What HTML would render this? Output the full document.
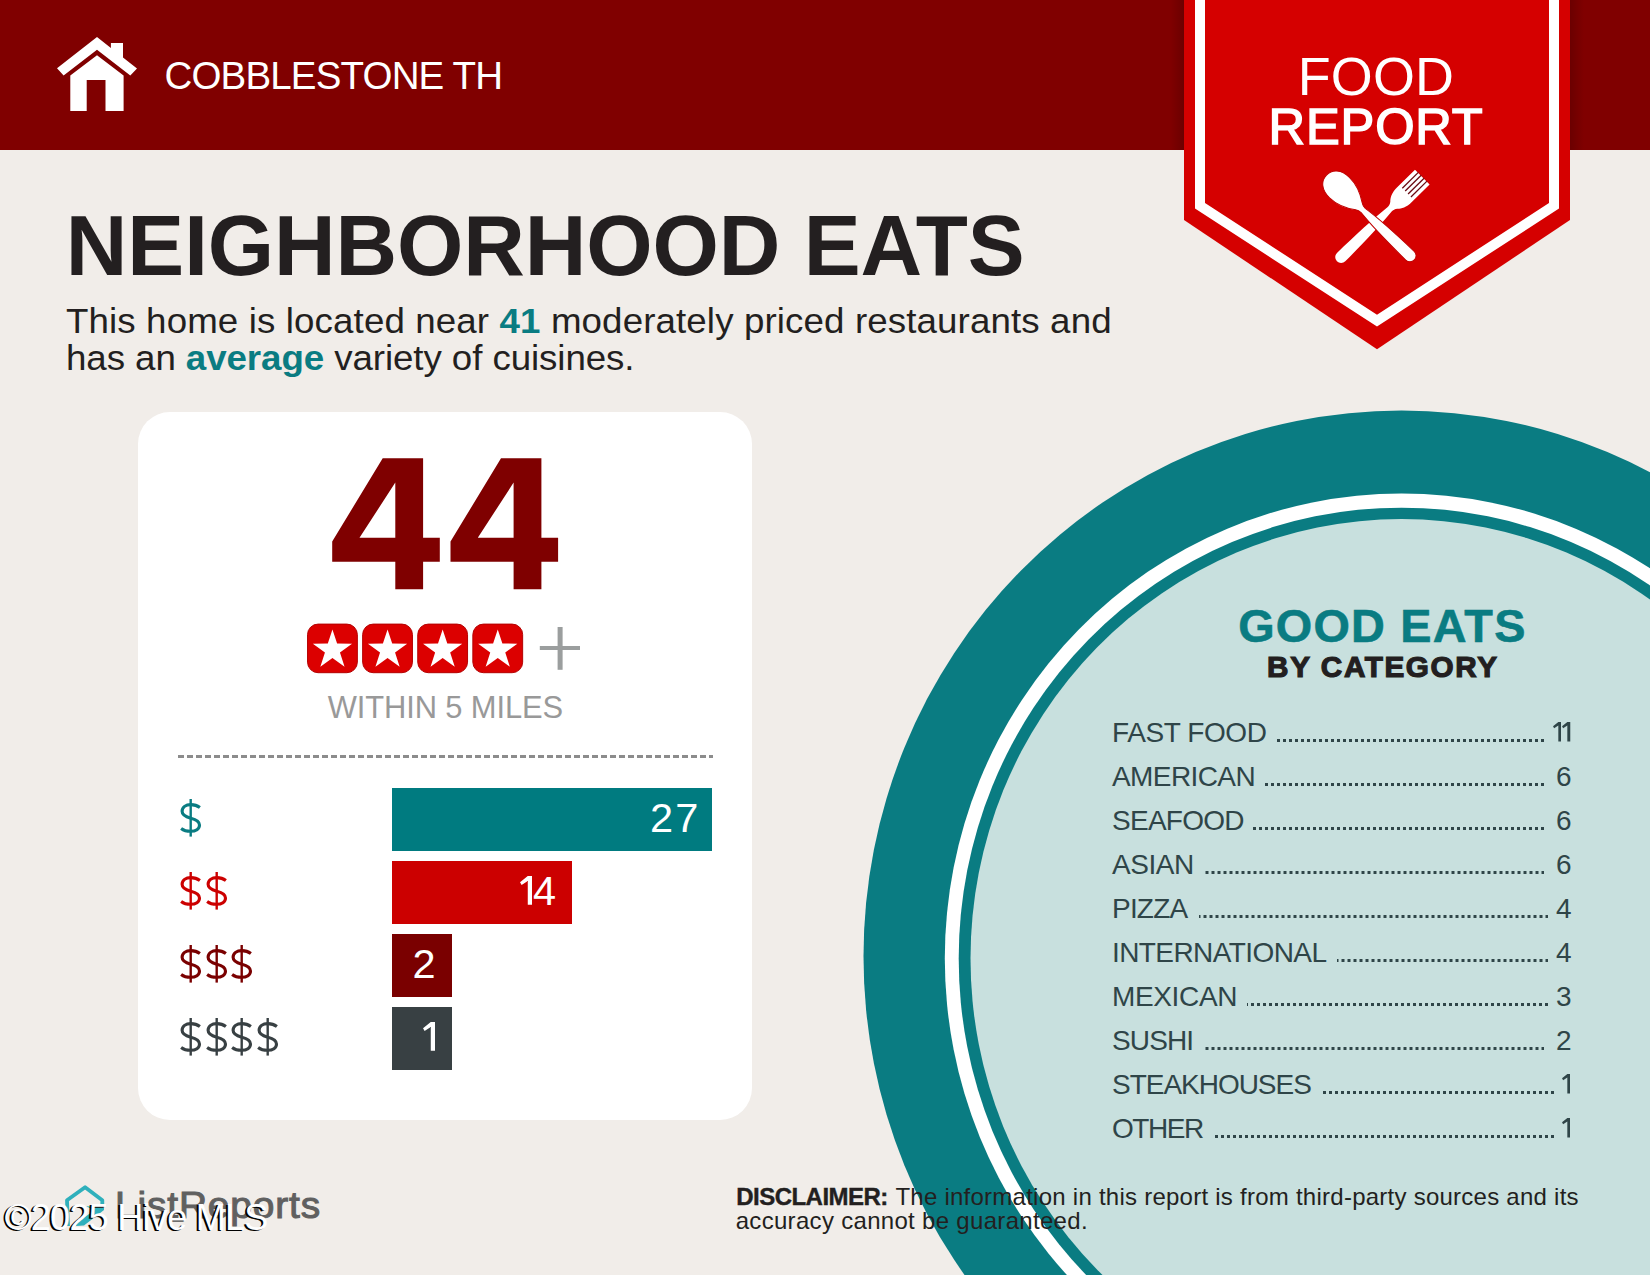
<!DOCTYPE html>
<html>
<head>
<meta charset="utf-8">
<title>Food Report</title>
<style>
html,body{margin:0;padding:0;}
body{width:1650px;height:1275px;overflow:hidden;background:#f1ede9;font-family:"Liberation Sans",sans-serif;}
#page{position:relative;width:1650px;height:1275px;overflow:hidden;background:#f1ede9;}
.abs{position:absolute;}
.t{position:absolute;white-space:nowrap;line-height:1;margin:0;padding:0;transform-origin:0 0;}
#hdr{left:0;top:0;width:1650px;height:150px;background:#800000;}
#card{left:138px;top:412px;width:614px;height:708px;border-radius:32px;background:#fff;}
.bar{position:absolute;left:392.2px;height:62.3px;}
.bv{position:absolute;color:#fff;font-size:41.5px;line-height:1;white-space:nowrap;}
.lb{position:absolute;left:1112px;white-space:nowrap;line-height:1;font-size:28px;color:#2f4548;}
.num{position:absolute;width:40px;left:1531.5px;text-align:right;white-space:nowrap;line-height:1;font-size:28px;color:#2f4548;}
.dots{position:absolute;height:3px;background:linear-gradient(90deg,transparent 0,transparent 3px,#2f4548 3px,#2f4548 6px) right top/6px 3px repeat-x;}
</style>
</head>
<body>
<div id="page">

<svg width="0" height="0" style="position:absolute">
  <defs>
    <symbol id="ds" viewBox="0 0 22 38" overflow="visible">
      <path d="M19.9,8.6 C17.4,6.7 14.4,5.6 11,5.6 C5.6,5.6 2.1,8.4 2.1,12.3 C2.1,16.2 5.2,17.8 10.8,19.2 C16.4,20.6 19.5,22.3 19.5,26 C19.5,30 15.9,32.3 10.5,32.3 C6.8,32.3 3.6,31.3 1.1,29.4" fill="none" stroke="currentColor" stroke-width="3.1"/>
      <path d="M10.7,0 L10.7,37.6" fill="none" stroke="currentColor" stroke-width="2.4"/>
    </symbol>
    <symbol id="one" viewBox="0 0 0.42 1" overflow="visible">
      <polygon points="0.27,0 0.42,0 0.42,1 0.27,1 0.27,0.175 0.055,0.315 0,0.215" fill="currentColor"/>
    </symbol>
  </defs>
</svg>

<!-- circle plate -->
<svg class="abs" style="left:0;top:0" width="1650" height="1275" viewBox="0 0 1650 1275">
  <ellipse cx="1401.5" cy="956.5" rx="538" ry="546" fill="#0a7c82"/>
  <ellipse cx="1401.5" cy="958.5" rx="456.7" ry="465" fill="#ffffff"/>
  <ellipse cx="1401.5" cy="958.5" rx="442.8" ry="450.8" fill="#0a7c82"/>
  <ellipse cx="1401.5" cy="958.5" rx="431" ry="439.4" fill="#c8e0de"/>
</svg>

<!-- header -->
<div id="hdr" class="abs"></div>
<svg class="abs" style="left:50px;top:30px" width="100" height="90" viewBox="50 30 100 90">
  <g fill="#fff">
    <polygon points="97,37 110.9,48 110.9,43 123,43 123,57.5 137,68.5 130.3,75.5 97,49.7 63.6,75.5 57,68.2"/>
    <path d="M97,55.2 L123.6,75.5 L123.6,111 L105.5,111 L105.5,80 L86.7,80 L86.7,111 L70.3,111 L70.3,75.5 Z"/>
  </g>
</svg>
<div class="t" id="addr" style="left:164.55px;top:56.65px;font-size:38.5px;color:#fff;letter-spacing:-0.84px;">COBBLESTONE TH</div>

<!-- badge -->
<div class="abs" style="left:1170px;top:0;width:14px;height:150px;background:linear-gradient(90deg,rgba(70,0,0,0),rgba(60,0,0,.3));"></div>
<div class="abs" style="left:1570px;top:0;width:14px;height:150px;background:linear-gradient(90deg,rgba(60,0,0,.3),rgba(70,0,0,0));"></div>
<svg class="abs" style="left:1160px;top:0" width="440" height="370" viewBox="1160 0 440 370">
  <polygon points="1184,0 1570,0 1570,220 1377,349.3 1184,220" fill="#d50000"/>
  <polygon points="1195,0 1205,0 1205,203 1377,314.7 1549,203 1549,0 1559,0 1559,208.5 1377,326.6 1195,208.5" fill="#ffffff"/>
</svg>
<div class="t" id="food" style="left:1297.75px;top:49.65px;font-size:53.9px;color:#fff;letter-spacing:0.17px;">FOOD</div>
<div class="t" id="report" style="left:1268.5px;top:101.65px;font-size:50.6px;color:#fff;letter-spacing:0.87px;-webkit-text-stroke:1.5px #fff;">REPORT</div>

<svg class="abs" style="left:1310px;top:155px" width="135" height="125" viewBox="1310 155 135 125">
  <g transform="translate(1422.3,177.1) rotate(135.4)">
    <path d="M0,-10.4 L25,-10.4 C33,-10.4 37,-8 40,-5 C42,-3.4 44,-3 46,-3 C62,-4.6 90,-5.7 114,-5.9 A5.9,5.9 0 0 1 114,5.9 C90,5.7 62,4.6 46,3 C44,3 42,3.4 40,5 C37,8 33,10.4 25,10.4 L0,10.4 Z" fill="#fff"/>
    <rect x="-0.5" y="-6.80" width="22.5" height="1.3" fill="#6a0a12"/>
    <rect x="-0.5" y="-2.70" width="22.5" height="1.3" fill="#6a0a12"/>
    <rect x="-0.5" y="1.40" width="22.5" height="1.3" fill="#6a0a12"/>
    <rect x="-0.5" y="5.50" width="22.5" height="1.3" fill="#6a0a12"/>
  </g>
  <g transform="translate(1325.8,174.4) rotate(44)">
    <path d="M1,0 C1,-8.5 8,-14.3 19,-14.3 C31,-14.3 40,-9 46,-4.8 C48,-3.4 50,-3 52,-3 C66,-4.8 92,-5.9 117,-6.1 A6.1,6.1 0 0 1 117,6.1 C92,5.9 66,4.8 52,3 C50,3 48,3.4 46,4.8 C40,9 31,14.3 19,14.3 C8,14.3 1,8.5 1,0 Z" fill="#fff" stroke="#c00000" stroke-width="1"/>
  </g>
</svg>

<!-- title -->
<div class="t" id="title" style="left:65.85px;top:203.15px;font-size:85.3px;letter-spacing:-0.1px;font-weight:bold;color:#231f20;">NEIGHBORHOOD EATS</div>
<div class="t" id="sub1" style="left:65.8px;top:303.15px;font-size:35.3px;letter-spacing:0.11px;transform:scaleX(1.04);color:#231f20;">This home is located near <b style="color:#0a7c82">41</b> moderately priced restaurants and</div>
<div class="t" id="sub2" style="left:65.6px;top:340.15px;font-size:35.3px;letter-spacing:-0.08px;transform:scaleX(1.04);color:#231f20;">has an <b style="color:#0a7c82">average</b> variety of cuisines.</div>

<!-- card -->
<div id="card" class="abs"></div>
<svg class="abs" style="left:320px;top:450px" width="260" height="150" viewBox="320 450 260 150">
  <g fill="#7f0000" fill-rule="evenodd">
    <path id="four" d="M382.7,458.2 L423.1,458.2 L423.1,537.8 L439.8,537.8 L439.8,561.7 L423.1,561.7 L423.1,589.3 L395.3,589.3 L395.3,561.7 L332.2,561.7 L332.2,541.6 Z M395.3,482.6 L395.3,537.8 L359.5,537.8 Z"/>
    <use href="#four" x="118.3" y="0"/>
  </g>
</svg>
<svg class="abs" style="left:300px;top:615px" width="300" height="70" viewBox="300 615 300 70">
<rect x="307.55" y="624.1" width="49.8" height="48.6" rx="10.5" ry="10.5" fill="#dc0000" stroke="#b40000" stroke-width="1"/>
<polygon points="332.45,629.40 337.09,643.61 352.04,643.63 339.96,652.44 344.56,666.67 332.45,657.90 320.34,666.67 324.94,652.44 312.86,643.63 327.81,643.61" fill="#fff"/>
<rect x="362.65" y="624.1" width="49.8" height="48.6" rx="10.5" ry="10.5" fill="#dc0000" stroke="#b40000" stroke-width="1"/>
<polygon points="387.55,629.40 392.19,643.61 407.14,643.63 395.06,652.44 399.66,666.67 387.55,657.90 375.44,666.67 380.04,652.44 367.96,643.63 382.91,643.61" fill="#fff"/>
<rect x="417.75" y="624.1" width="49.8" height="48.6" rx="10.5" ry="10.5" fill="#dc0000" stroke="#b40000" stroke-width="1"/>
<polygon points="442.65,629.40 447.29,643.61 462.24,643.63 450.16,652.44 454.76,666.67 442.65,657.90 430.54,666.67 435.14,652.44 423.06,643.63 438.01,643.61" fill="#fff"/>
<rect x="472.85" y="624.1" width="49.8" height="48.6" rx="10.5" ry="10.5" fill="#dc0000" stroke="#b40000" stroke-width="1"/>
<polygon points="497.75,629.40 502.39,643.61 517.34,643.63 505.26,652.44 509.86,666.67 497.75,657.90 485.64,666.67 490.24,652.44 478.16,643.63 493.11,643.61" fill="#fff"/>
<rect x="539.8" y="646" width="40.2" height="4" fill="#9b9e9e"/><rect x="557.6" y="627" width="5" height="42.8" fill="#9b9e9e"/>
</svg>
<div class="t" id="within" style="left:327.75px;top:692.65px;font-size:30.9px;letter-spacing:-0.12px;color:#999;">WITHIN 5 MILES</div>

<div class="abs" style="left:178px;top:755px;width:535px;height:3px;background:repeating-linear-gradient(90deg,#8c8c8c 0,#8c8c8c 6px,transparent 6px,transparent 9px);"></div>

<div class="bar" style="top:788.3px;width:319.7px;background:#007b80;"></div>
<div class="bar" style="top:861.3px;width:179.7px;background:#cc0000;"></div>
<div class="bar" style="top:934.3px;width:59.7px;background:#7a0000;"></div>
<div class="bar" style="top:1007.3px;width:59.7px;background:#384043;"></div>


<svg class="abs" style="left:180.1px;top:798.8px;color:#0a7c82" width="22" height="38"><use href="#ds"/></svg>
<svg class="abs" style="left:180.1px;top:871.8px;color:#cc0000" width="22" height="38"><use href="#ds"/></svg>
<svg class="abs" style="left:205.6px;top:871.8px;color:#cc0000" width="22" height="38"><use href="#ds"/></svg>
<svg class="abs" style="left:180.1px;top:944.8px;color:#7a0000" width="22" height="38"><use href="#ds"/></svg>
<svg class="abs" style="left:205.6px;top:944.8px;color:#7a0000" width="22" height="38"><use href="#ds"/></svg>
<svg class="abs" style="left:231.1px;top:944.8px;color:#7a0000" width="22" height="38"><use href="#ds"/></svg>
<svg class="abs" style="left:180.1px;top:1017.8px;color:#384043" width="22" height="38"><use href="#ds"/></svg>
<svg class="abs" style="left:205.6px;top:1017.8px;color:#384043" width="22" height="38"><use href="#ds"/></svg>
<svg class="abs" style="left:231.1px;top:1017.8px;color:#384043" width="22" height="38"><use href="#ds"/></svg>
<svg class="abs" style="left:256.6px;top:1017.8px;color:#384043" width="22" height="38"><use href="#ds"/></svg>
<div class="bv" id="v1" style="left:650px;top:797.15px;letter-spacing:2.2px;">27</div>
<svg class="abs" style="left:519.6px;top:876.3px;color:#fff" width="12.1" height="28.7"><use href="#one" width="12.1" height="28.7"/></svg><div class="bv" id="v2" style="left:533px;top:870.15px;">4</div>
<div class="bv" id="v3" style="left:412.5px;top:943.15px;">2</div>
<svg class="abs" id="v4" style="left:423.3px;top:1022.3px;color:#fff" width="12.1" height="28.7" preserveAspectRatio="none"><use href="#one" width="12.1" height="28.7" preserveAspectRatio="none"/></svg>

<div class="t" id="disc0" style="left:736.3px;top:1184.65px;font-size:24px;color:#231f20;font-weight:bold;letter-spacing:-0.54px;-webkit-text-stroke:0.4px #231f20;">DISCLAIMER:</div>
<div class="t" id="disc1" style="left:895.4px;top:1184.65px;font-size:24px;color:#231f20;letter-spacing:0.25px;">The information in this report is from third-party sources and its</div>
<div class="t" id="disc2" style="left:735.7px;top:1208.65px;font-size:24px;color:#231f20;letter-spacing:0.31px;">accuracy cannot be guaranteed.</div>

<svg class="abs" style="left:60px;top:1180px" width="50" height="55" viewBox="60 1180 50 55">
  <path d="M68,1226 L67,1200.3 L85.1,1187.2 L102.3,1200.3 L102.3,1204.5" fill="none" stroke="#2fb0bc" stroke-width="3.8" stroke-linejoin="round" stroke-linecap="butt"/>
  <path d="M86,1206 L104,1208 L104,1210 L84,1225.5 L76,1226 L76,1223.5 L94,1210.5 Z" fill="#2fb0bc"/>
</svg>
<div class="t" id="lr" style="left:114.7px;top:1187.65px;font-size:36px;color:#606060;letter-spacing:0.79px;transform:scaleX(1.08);-webkit-text-stroke:1px #606060;">ListReports</div>
<div class="t" id="wm" style="left:5px;top:1199.65px;font-size:36px;color:#fff;letter-spacing:-0.72px;text-shadow:-2px 0.5px 0 #000;">&copy;2025 Hive MLS</div>

<!-- good eats -->
<div class="t" id="ge" style="left:1238.25px;top:603.15px;font-size:46.8px;letter-spacing:1.22px;font-weight:bold;color:#0a7c82;-webkit-text-stroke:0.6px #0a7c82;">GOOD EATS</div>
<div class="t" id="bc" style="left:1267.1px;top:652.15px;font-size:29.7px;letter-spacing:1.6px;font-weight:bold;color:#231f20;-webkit-text-stroke:1.2px #231f20;">BY CATEGORY</div>


<div class="lb" id="l0" style="left:1112px;letter-spacing:-0.41px;top:718.65px;">FAST FOOD</div><div class="dots" style="left:1277px;top:739px;width:267px;"></div><svg class="abs" style="left:1552.7px;top:722.4px;color:#2f4548" width="8.3" height="19.6"><use href="#one" width="8.3" height="19.6"/></svg><svg class="abs" style="left:1562.3px;top:722.4px;color:#2f4548" width="8.3" height="19.6"><use href="#one" width="8.3" height="19.6"/></svg>
<div class="lb" id="l1" style="left:1112px;letter-spacing:-0.59px;top:762.65px;">AMERICAN</div><div class="dots" style="left:1265px;top:783px;width:279px;"></div><div class="num" id="n1" style="top:762.65px;">6</div>
<div class="lb" id="l2" style="left:1112px;letter-spacing:-0.73px;top:806.65px;">SEAFOOD</div><div class="dots" style="left:1253px;top:827px;width:291px;"></div><div class="num" id="n2" style="top:806.65px;">6</div>
<div class="lb" id="l3" style="left:1112px;letter-spacing:-0.43px;top:850.65px;">ASIAN</div><div class="dots" style="left:1204.5px;top:871px;width:339.5px;"></div><div class="num" id="n3" style="top:850.65px;">6</div>
<div class="lb" id="l4" style="left:1112px;letter-spacing:-0.8px;top:894.65px;">PIZZA</div><div class="dots" style="left:1198.5px;top:915px;width:349.5px;"></div><div class="num" id="n4" style="top:894.65px;">4</div>
<div class="lb" id="l5" style="left:1112px;letter-spacing:-0.58px;top:938.65px;">INTERNATIONAL</div><div class="dots" style="left:1336.5px;top:959px;width:211.5px;"></div><div class="num" id="n5" style="top:938.65px;">4</div>
<div class="lb" id="l6" style="left:1112px;letter-spacing:-0.36px;top:982.65px;">MEXICAN</div><div class="dots" style="left:1247px;top:1003px;width:301px;"></div><div class="num" id="n6" style="top:982.65px;">3</div>
<div class="lb" id="l7" style="left:1112px;letter-spacing:-0.86px;top:1026.65px;">SUSHI</div><div class="dots" style="left:1204.5px;top:1047px;width:339.5px;"></div><div class="num" id="n7" style="top:1026.65px;">2</div>
<div class="lb" id="l8" style="left:1112px;letter-spacing:-1.02px;top:1070.65px;">STEAKHOUSES</div><div class="dots" style="left:1320px;top:1091px;width:234px;"></div><svg class="abs" style="left:1562.2px;top:1074.4px;color:#2f4548" width="8.3" height="19.6"><use href="#one" width="8.3" height="19.6"/></svg>
<div class="lb" id="l9" style="left:1112px;letter-spacing:-1.46px;top:1114.65px;">OTHER</div><div class="dots" style="left:1213px;top:1135px;width:341px;"></div><svg class="abs" style="left:1562.2px;top:1118.4px;color:#2f4548" width="8.3" height="19.6"><use href="#one" width="8.3" height="19.6"/></svg>

</div>
</body>
</html>
